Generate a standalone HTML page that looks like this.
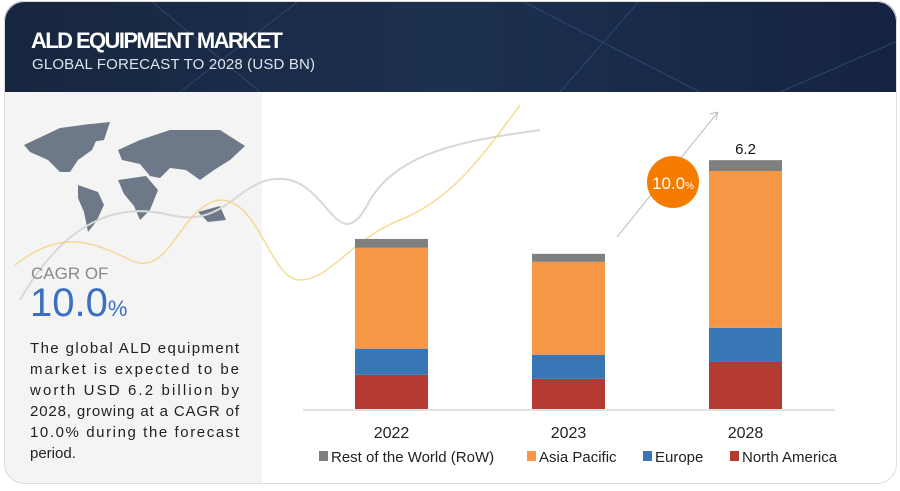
<!DOCTYPE html>
<html><head><meta charset="utf-8"><style>
body{margin:0;width:900px;height:486px;background:#fff;font-family:"Liberation Sans",sans-serif;overflow:hidden}
</style></head><body>
<svg width="900" height="486" viewBox="0 0 900 486" xmlns="http://www.w3.org/2000/svg">
<defs>
<linearGradient id="hg" x1="0" x2="1"><stop offset="0" stop-color="#17263f"/><stop offset="0.5" stop-color="#1c3050"/><stop offset="1" stop-color="#142340"/></linearGradient>
<clipPath id="card"><rect x="4" y="1" width="893" height="483" rx="20"/></clipPath>
</defs>
<g clip-path="url(#card)">
<rect x="0" y="0" width="900" height="486" fill="#fff"/>
<rect x="0" y="0" width="900" height="92" fill="url(#hg)"/>
<path d="M150,0 L260,92 M300,0 L180,92 M520,0 L700,92 M640,0 L560,92 M900,40 L780,92" stroke="#3a5a80" stroke-width="1" opacity="0.6"/>
<rect x="0" y="92" width="262" height="394" fill="#f4f4f4"/>
</g>
<rect x="4.5" y="1.5" width="892" height="482" rx="20" fill="none" stroke="#ddd" stroke-width="1"/>
<text x="31" y="48" font-size="22" font-weight="bold" fill="#fff" textLength="252">ALD EQUIPMENT MARKET</text>
<text x="32" y="69" font-size="15" fill="#dfe4ea" textLength="283">GLOBAL FORECAST TO 2028 (USD BN)</text>
<g fill="#6d7888">
<path d="M24,145 L60,128 L90,124 L100,132 L92,150 L78,160 L70,172 L60,172 L48,160 L30,152Z"/>
<path d="M82,125 L110,122 L104,140 L92,142Z"/>
<path d="M78,185 L98,192 L104,205 L96,222 L88,232 L84,212 L78,198Z"/>
<path d="M118,150 L140,140 L170,130 L220,130 L245,146 L230,160 L214,170 L200,180 L186,170 L170,168 L160,178 L150,176 L140,164 L122,160Z"/>
<path d="M118,180 L146,176 L158,190 L150,210 L140,220 L134,206 L124,194Z"/>
<path d="M198,212 L220,206 L226,220 L208,222Z"/>
</g>
<path d="M20,300 C60,230 110,200 170,215 C230,230 240,170 290,180 C330,190 340,260 370,200 C400,150 470,140 540,130" fill="none" stroke="#d8d8d8" stroke-width="2"/>
<path d="M15,265 C60,230 90,240 130,260 C170,280 180,205 220,200 C260,200 270,280 300,280 C330,280 350,240 400,220 C450,200 480,160 520,105" fill="none" stroke="#f3d27a" stroke-width="1.5" opacity="0.8"/>
<text x="31" y="279" font-size="17" fill="#8a8a8a">CAGR OF</text>
<text x="30" y="316" font-size="40" fill="#3b6fbf">10.0<tspan font-size="22">%</tspan></text>
<g font-size="15" fill="#222">
<text x="30" y="353" textLength="209">The global ALD equipment</text>
<text x="30" y="374" textLength="209">market is expected to be</text>
<text x="30" y="395" textLength="209">worth USD 6.2 billion by</text>
<text x="30" y="416" textLength="209">2028, growing at a CAGR of</text>
<text x="30" y="437" textLength="209">10.0% during the forecast</text>
<text x="30" y="458">period.</text>
</g>
<line x1="617" y1="237" x2="718" y2="112" stroke="#bbb" stroke-width="1"/>
<path d="M718,112 L710,114 M718,112 L716,120" stroke="#bbb" stroke-width="1"/>
<circle cx="673" cy="182" r="26" fill="#f57c00"/>
<text x="673" y="189" font-size="17" fill="#fff" text-anchor="middle">10.0<tspan font-size="10">%</tspan></text>
<g id="plot"></g>
<line x1="303" y1="410" x2="835" y2="410" stroke="#d9d9d9" stroke-width="1.5"/>
<g id="legend" font-size="15" fill="#222"></g>
</svg>
<script>
const categories=["2022","2023","2028"];
const northAmerica=[0.85,0.75,1.17];
const europe=[0.65,0.60,0.85];
const asiaPacific=[2.51,2.31,3.90];
const restOfWorld=[0.22,0.20,0.27];
const totalLabels=["","","6.2"];
const seriesNames=["Rest of the World (RoW)","Asia Pacific","Europe","North America"];
const NS="http://www.w3.org/2000/svg";
const base=409, scale=40.2, barW=73;
function xPos(i){return 355+i*177;}
function yPos(v){return base-v*scale;}
const series=[
 {vals:northAmerica,color:"#b53a31",name:"north-america"},
 {vals:europe,color:"#3777b5",name:"europe"},
 {vals:asiaPacific,color:"#f79646",name:"asia-pacific"},
 {vals:restOfWorld,color:"#7f7f7f",name:"rest-of-world"}];
const plot=document.getElementById('plot');
categories.forEach((c,i)=>{
 let cum=0;
 series.forEach(s=>{
  const v=s.vals[i];
  const r=document.createElementNS(NS,'rect');
  r.setAttribute('x',xPos(i));r.setAttribute('width',barW);
  r.setAttribute('y',yPos(cum+v));r.setAttribute('height',v*scale);
  r.setAttribute('fill',s.color);
  
  
  plot.appendChild(r);cum+=v;
 });
 const t=document.createElementNS(NS,'text');
 t.setAttribute('x',xPos(i)+barW/2);t.setAttribute('y',438);
 t.setAttribute('text-anchor','middle');t.setAttribute('font-size','16');t.setAttribute('fill','#222');
 t.textContent=c;
 
 
 plot.appendChild(t);
 if(totalLabels[i]){
  const l=document.createElementNS(NS,'text');
  l.setAttribute('x',xPos(i)+barW/2);l.setAttribute('y',yPos(cum)-6);
  l.setAttribute('text-anchor','middle');l.setAttribute('font-size','15');l.setAttribute('fill','#111');
  l.textContent=totalLabels[i];
  
  
  plot.appendChild(l);
 }
});
const legend=document.getElementById('legend');
const lx=[319,527,643,730];
const lc=["#7f7f7f","#f79646","#3777b5","#b53a31"];
seriesNames.forEach((n,i)=>{
 const g=document.createElementNS(NS,'g');
 
 
 const r=document.createElementNS(NS,'rect');
 r.setAttribute('x',lx[i]);r.setAttribute('y',451);r.setAttribute('width',9);r.setAttribute('height',10);r.setAttribute('fill',lc[i]);
 const t=document.createElementNS(NS,'text');
 t.setAttribute('x',lx[i]+12);t.setAttribute('y',462);t.textContent=n;
 g.appendChild(r);g.appendChild(t);legend.appendChild(g);
});
</script>
</body></html>
